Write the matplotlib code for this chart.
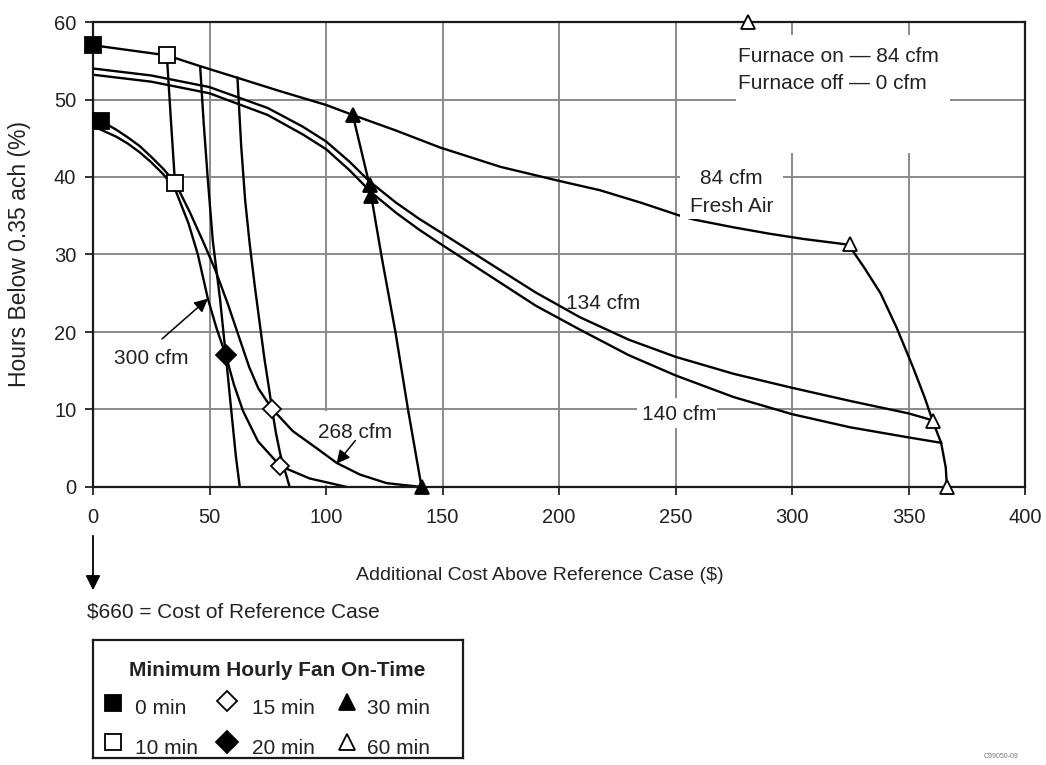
import matplotlib
matplotlib.use("Agg")
import matplotlib.pyplot as plt
from matplotlib.patches import Rectangle, FancyArrowPatch

plt.rcParams['font.family'] = ['Liberation Sans', 'DejaVu Sans']

# ---------------- data ----------------
# airflow curves: x = additional cost ($), y = hours below 0.35 ach (%)
fresh84_x = [0, 31.7, 46, 62, 80, 100, 111.5, 130, 149, 175, 200, 217.5, 235, 252, 258, 275, 290, 305, 323.5]
fresh84_y = [57.0, 55.7, 54.3, 52.8, 51.1, 49.3, 48.0, 46.0, 43.8, 41.3, 39.5, 38.3, 36.7, 35.0, 34.5, 33.5, 32.7, 32.0, 31.3]

c134_x = [0, 25, 50, 75, 90, 100, 110, 118.8, 130, 140, 149, 170, 190, 209, 230, 250, 275, 300, 325, 350, 360.4]
c134_y = [54.0, 53.1, 51.6, 48.9, 46.5, 44.6, 42.0, 39.4, 36.7, 34.6, 32.9, 28.9, 25.1, 21.9, 19.0, 16.8, 14.6, 12.8, 11.1, 9.5, 8.6]

c140_x = [0, 25, 50, 75, 90, 100, 110, 119.5, 130, 140, 149, 170, 190, 209, 230, 250, 275, 300, 325, 350, 364]
c140_y = [53.2, 52.3, 50.8, 48.0, 45.5, 43.6, 40.9, 38.0, 35.4, 33.2, 31.4, 27.3, 23.4, 20.3, 17.0, 14.4, 11.6, 9.4, 7.7, 6.4, 5.7]

c268_x = [3.6, 10, 15, 20, 25, 30, 35.2, 41.5, 47.5, 52.5, 58, 62.5, 67, 71, 76.8, 85.8, 96, 104.6, 114.6, 126, 141]
c268_y = [47.2, 46.1, 45.1, 44.0, 42.6, 41.1, 39.3, 35.5, 31.5, 28.0, 23.5, 19.5, 15.5, 12.7, 10.1, 7.2, 5.0, 3.1, 1.6, 0.5, 0.0]

c300_x = [0.5, 10, 15, 20, 25, 30, 35, 41, 45, 49.3, 53, 57, 60.5, 64.4, 70.8, 80.4, 93, 109]
c300_y = [46.5, 45.2, 44.3, 43.2, 41.9, 40.4, 38.6, 34.0, 30.0, 24.3, 20.5, 17.0, 13.2, 9.8, 5.9, 2.7, 1.1, 0.0]

# lines of equal minimum fan on-time
iso10_x = [31.7, 33.4, 35.2]
iso10_y = [55.7, 47.5, 39.2]
iso15_x = [62, 63.6, 65.3, 67.2, 69.4, 71.6, 73.6, 75.4, 76.8, 78.5, 80.4, 82.2, 84.4]
iso15_y = [52.8, 44.0, 37.0, 31.5, 26.0, 21.0, 16.5, 13.0, 10.1, 7.0, 4.2, 2.3, 0.0]
iso20_x = [46, 47.5, 49.2, 51.4, 54.5, 57, 59.3, 61.3, 63]
iso20_y = [54.2, 47.0, 40.0, 31.8, 24.3, 17.0, 10.0, 4.0, 0.0]
iso30_x = [111.5, 118.8, 119.5, 124, 129.8, 135.2, 138.1, 141]
iso30_y = [48.0, 38.8, 37.4, 29.5, 20.0, 10.0, 5.0, 0.0]
iso60_x = [323.5, 326, 331, 338, 345, 352, 357, 360.4, 364, 366, 366.5]
iso60_y = [31.3, 30.5, 28.3, 25.0, 20.5, 15.4, 11.5, 8.5, 5.7, 2.5, 0.0]

# markers per minimum hourly fan on-time
m0_x, m0_y = [0, 3.6], [57.0, 47.2]
m10_x, m10_y = [31.7, 35.2], [55.7, 39.2]
m15_x, m15_y = [76.8, 80.4], [10.1, 2.7]
m20_x, m20_y = [57], [17.0]
m30_x, m30_y = [111.5, 118.8, 119.5, 141], [48.0, 39.0, 37.6, 0.0]
m60_x, m60_y = [281, 325, 360.4, 366.5], [60.0, 31.3, 8.5, 0.0]

x_ticks = [0, 50, 100, 150, 200, 250, 300, 350, 400]
y_ticks = [0, 10, 20, 30, 40, 50, 60]
legend_labels = ['0 min', '10 min', '15 min', '20 min', '30 min', '60 min']

# ---------------- figure ----------------
W, H = 1046, 765
FS = 15
TXT = '#222222'
fig = plt.figure(figsize=(W / 100, H / 100), dpi=100)
ax = fig.add_axes([93 / W, 1 - 487 / H, (1025 - 93) / W, (487 - 22) / H])
ax.set_xlim(0, 400)
ax.set_ylim(0, 60)
ax.set_xticks(x_ticks)
ax.set_yticks(y_ticks)
ax.set_axisbelow(True)
ax.grid(True, color='#8a8a8a', lw=1.4)
for s in ax.spines.values():
    s.set_linewidth(1.6)
    s.set_color('#1a1a1a')
ax.tick_params(direction='out', length=6, width=1.4, color='#333333', labelsize=14.5, labelcolor=TXT)
ax.tick_params(axis='x', pad=9)
ax.tick_params(axis='y', pad=6)

# white masks behind labels (grid interrupted)
for (x0, y0, w, h) in [(276, 43.1, 92, 15.2), (233.3, 7.6, 34.3, 3.9), (97, 0.3, 33, 9.5)]:
    ax.add_patch(Rectangle((x0, y0), w, h, facecolor='white', edgecolor='none', zorder=1))
# the "Fresh Air" label also cuts the 84 cfm curve
ax.add_patch(Rectangle((251.8, 34.6), 44.2, 6.9, facecolor='white', edgecolor='none', zorder=3))

lk = dict(color='black', lw=1.7, zorder=2, solid_joinstyle='round')
for xs, ys in [(fresh84_x, fresh84_y), (c134_x, c134_y), (c140_x, c140_y), (c268_x, c268_y), (c300_x, c300_y),
               (iso10_x, iso10_y), (iso15_x, iso15_y), (iso20_x, iso20_y), (iso30_x, iso30_y), (iso60_x, iso60_y)]:
    ax.plot(xs, ys, **lk)

mk = dict(ls='none', clip_on=False, zorder=4, markeredgecolor='black', markeredgewidth=1.3)
ax.plot(m0_x, m0_y, marker='s', ms=12, markerfacecolor='black', **mk)
ax.plot(m10_x, m10_y, marker='s', ms=11, markerfacecolor='white', **mk)
ax.plot(m15_x, m15_y, marker='D', ms=9, markerfacecolor='white', **mk)
ax.plot(m20_x, m20_y, marker='D', ms=10, markerfacecolor='black', **mk)
ax.plot(m30_x, m30_y, marker='^', ms=10, markerfacecolor='black', **mk)
ax.plot(m60_x, m60_y, marker='^', ms=10, markerfacecolor='white', **mk)

# labels on plot
tk = dict(fontsize=FS, color=TXT, zorder=5)
ax.text(276.7, 55.6, 'Furnace on \u2014 84 cfm', ha='left', va='center', **tk)
ax.text(276.7, 52.1, 'Furnace off \u2014 0 cfm', ha='left', va='center', **tk)
ax.text(274, 39.8, '84 cfm', ha='center', va='center', **tk)
ax.text(274, 36.2, 'Fresh Air', ha='center', va='center', **tk)
ax.text(218.8, 23.7, '134 cfm', ha='center', va='center', **tk)
ax.text(251.6, 9.3, '140 cfm', ha='center', va='center', **tk)
ax.text(112.3, 7.0, '268 cfm', ha='center', va='center', **tk)
ax.text(25.0, 16.6, '300 cfm', ha='center', va='center', **tk)
arw = dict(arrowstyle='-|>', color='black', lw=1.1, mutation_scale=20, shrinkA=0, shrinkB=0)
ax.annotate('', xy=(104.5, 3.0), xytext=(112.6, 6.0), arrowprops=arw, zorder=5)
ax.annotate('', xy=(49.3, 24.3), xytext=(29.6, 19.1), arrowprops=arw, zorder=5)

# axis titles
fig.text(20 / W, 1 - 254 / H, 'Hours Below 0.35 ach (%)', rotation=90, ha='center', va='center', fontsize=16.5, color=TXT)
fig.text(540 / W, 1 - 576 / H, 'Additional Cost Above Reference Case ($)', ha='center', va='center', fontsize=14, color=TXT)
fig.text(87 / W, 1 - 612 / H, '$660 = Cost of Reference Case', ha='left', va='center', fontsize=FS, color=TXT)
fig.add_artist(FancyArrowPatch((93 / W, 1 - 533 / H), (93 / W, 1 - 593 / H),
                               transform=fig.transFigure, arrowstyle='-|>',
                               mutation_scale=22, color='black', lw=1.3))
fig.text(1018 / W, 1 - 757 / H, 'C99050-09', ha='right', va='center', fontsize=5, color='#777777')

# legend box
lg = fig.add_axes([93 / W, 1 - 758 / H, (463 - 93) / W, (758 - 640) / H])
lg.set_xlim(0, 370)
lg.set_ylim(118, 0)
lg.set_xticks([])
lg.set_yticks([])
for s in lg.spines.values():
    s.set_linewidth(1.6)
    s.set_color('#1a1a1a')
lg.text(184, 30, 'Minimum Hourly Fan On-Time', ha='center', va='center', fontsize=FS, fontweight='bold', color=TXT)
leg_style = [('s', 'black', 12), ('s', 'white', 12), ('D', 'white', 10), ('D', 'black', 11), ('^', 'black', 11), ('^', 'white', 11)]
mx = [20, 20, 134, 134, 254, 254]
my = [63, 102, 61, 102, 62, 102]
tx = [42, 42, 159, 159, 274, 274]
ty = [69, 108, 69, 108, 69, 108]
for i, (m, fc, ms) in enumerate(leg_style):
    lg.plot([mx[i]], [my[i]], marker=m, ms=ms, markerfacecolor=fc, markeredgecolor='black', markeredgewidth=1.3, ls='none')
    lg.text(tx[i], ty[i], legend_labels[i], ha='left', va='center', fontsize=FS, color=TXT)

fig.savefig('out.png', dpi=100)
